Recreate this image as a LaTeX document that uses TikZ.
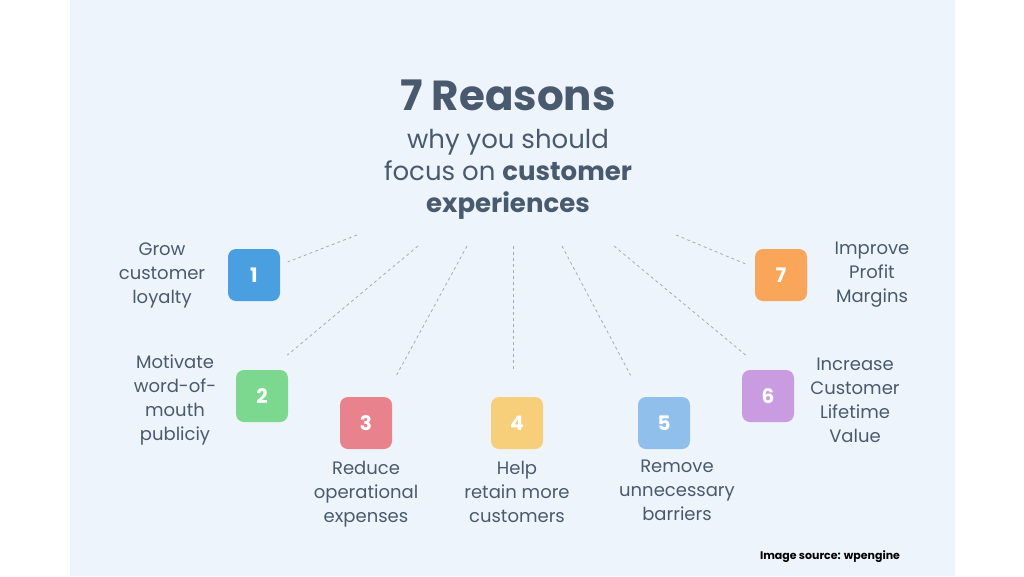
\documentclass[tikz,border=0pt]{standalone}
\usepackage{fontspec}
\setmainfont{Poppins}
\usetikzlibrary{positioning}
\definecolor{ink}{HTML}{4A5A6E}
\definecolor{panel}{HTML}{EEF4FB}
\definecolor{cone}{HTML}{4A9FE0}
\definecolor{ctwo}{HTML}{7DD88F}
\definecolor{cthree}{HTML}{E8838E}
\definecolor{cfour}{HTML}{F7CF7A}
\definecolor{cfive}{HTML}{8FBFEA}
\definecolor{csix}{HTML}{C99BE0}
\definecolor{cseven}{HTML}{F9A65A}
\tikzset{
numbox/.style = {rounded corners=8pt, minimum width=52pt, minimum height=52pt, text=white, font=\fontsize{20}{24}\selectfont\bfseries},
reason/.style = {text=ink, align=center, font=\fontsize{18}{24}\selectfont},
guide/.style  = {draw=ink!50, dashed, line width=0.8pt, shorten >=3pt}
}
\begin{document}
\begin{tikzpicture}[x=1pt, y=-1pt]
  \useasboundingbox (0,0) rectangle (1024,576);
  \fill[white] (0,0) rectangle (1024,576);
  \fill[panel] (70,0) rectangle (955,576);

  % heading
  \node [text=ink, font=\fontsize{42}{48}\selectfont\bfseries] (title) at (508,95) {7 Reasons};
  \node [text=ink, align=center, font=\fontsize{26}{32}\selectfont, below=12pt of title] (sub)
        {why you should\\focus on \textbf{customer}\\\textbf{experiences}};

  % numbered boxes
  \node [numbox, fill=cone]   (b1) at (254,275) {1};
  \node [numbox, fill=ctwo]   (b2) at (262,396) {2};
  \node [numbox, fill=cthree] (b3) at (366,423) {3};
  \node [numbox, fill=cfour]  (b4) at (517,423) {4};
  \node [numbox, fill=cfive]  (b5) at (664,423) {5};
  \node [numbox, fill=csix]   (b6) at (768,396) {6};
  \node [numbox, fill=cseven] (b7) at (781,275) {7};

  % labels
  \node [reason] (l1) at (162,275) {Grow\\customer\\loyalty};
  \node [reason] (l2) at (175,400) {Motivate\\word-of-\\mouth\\publiciy};
  \node [reason, below=8pt of b3] (l3) {Reduce\\operational\\expenses};
  \node [reason, below=8pt of b4] (l4) {Help\\retain more\\customers};
  \node [reason] (l5) at (677,490) {Remove\\unnecessary\\barriers};
  \node [reason] (l6) at (855,400) {Increase\\Customer\\Lifetime\\Value};
  \node [reason] (l7) at (872,275) {Improve\\Profit\\Margins};

  % guide lines
  \coordinate (t1) at (357,235);
  \coordinate (t2) at (418,246);
  \coordinate (t3) at (467,246);
  \coordinate (t4) at (513,246);
  \coordinate (t5) at (562,246);
  \coordinate (t6) at (614,246);
  \coordinate (t7) at (676,235);
  \draw [guide] (t1) -- (285,263);
  \draw [guide] (t2) -- (285,357);
  \draw [guide] (t3) -- (395,378);
  \draw [guide] (t4) -- (513,373);
  \draw [guide] (t5) -- (632,378);
  \draw [guide] (t6) -- (748,357);
  \draw [guide] (t7) -- (748,265);

  \node [font=\fontsize{11}{13}\selectfont\bfseries] (src) at (830,557) {Image source: wpengine};
\end{tikzpicture}
\end{document}
